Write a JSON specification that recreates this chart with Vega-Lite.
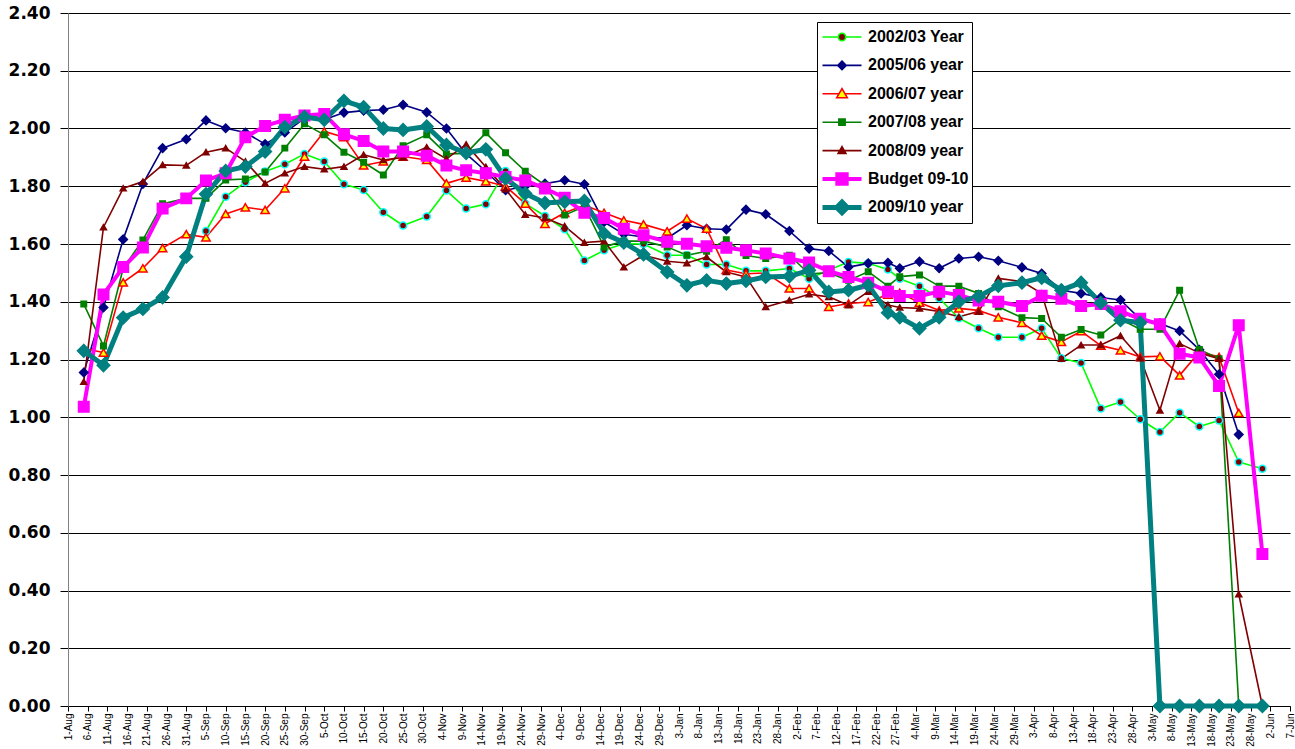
{
"$schema": "https://vega.github.io/schema/vega-lite/v6.json",
"width": 1222, "height": 693,
"autosize": {"type": "none"},
"padding": {"left": 68, "top": 13, "right": 5, "bottom": 43},
"background": "white",
"config": {"view": {"stroke": null}, "font": "Liberation Sans"},
"data": {"values": [
{"series":"2002/03 Year","date":"2009-09-05","value":1.645},
{"series":"2002/03 Year","date":"2009-09-10","value":1.764},
{"series":"2002/03 Year","date":"2009-09-15","value":1.814},
{"series":"2002/03 Year","date":"2009-09-20","value":1.851},
{"series":"2002/03 Year","date":"2009-09-25","value":1.876},
{"series":"2002/03 Year","date":"2009-09-30","value":1.912},
{"series":"2002/03 Year","date":"2009-10-05","value":1.886},
{"series":"2002/03 Year","date":"2009-10-10","value":1.807},
{"series":"2002/03 Year","date":"2009-10-15","value":1.787},
{"series":"2002/03 Year","date":"2009-10-20","value":1.71},
{"series":"2002/03 Year","date":"2009-10-25","value":1.664},
{"series":"2002/03 Year","date":"2009-10-31","value":1.695},
{"series":"2002/03 Year","date":"2009-11-05","value":1.785},
{"series":"2002/03 Year","date":"2009-11-10","value":1.723},
{"series":"2002/03 Year","date":"2009-11-15","value":1.738},
{"series":"2002/03 Year","date":"2009-11-20","value":1.853},
{"series":"2002/03 Year","date":"2009-11-25","value":1.74},
{"series":"2002/03 Year","date":"2009-11-30","value":1.697},
{"series":"2002/03 Year","date":"2009-12-05","value":1.651},
{"series":"2002/03 Year","date":"2009-12-10","value":1.543},
{"series":"2002/03 Year","date":"2009-12-15","value":1.578},
{"series":"2002/03 Year","date":"2009-12-20","value":1.601},
{"series":"2002/03 Year","date":"2009-12-25","value":1.6},
{"series":"2002/03 Year","date":"2009-12-31","value":1.561},
{"series":"2002/03 Year","date":"2010-01-05","value":1.561},
{"series":"2002/03 Year","date":"2010-01-10","value":1.529},
{"series":"2002/03 Year","date":"2010-01-15","value":1.529},
{"series":"2002/03 Year","date":"2010-01-20","value":1.507},
{"series":"2002/03 Year","date":"2010-01-25","value":1.507},
{"series":"2002/03 Year","date":"2010-01-31","value":1.515},
{"series":"2002/03 Year","date":"2010-02-05","value":1.48},
{"series":"2002/03 Year","date":"2010-02-10","value":1.51},
{"series":"2002/03 Year","date":"2010-02-15","value":1.538},
{"series":"2002/03 Year","date":"2010-02-20","value":1.533},
{"series":"2002/03 Year","date":"2010-02-25","value":1.512},
{"series":"2002/03 Year","date":"2010-02-28","value":1.48},
{"series":"2002/03 Year","date":"2010-03-05","value":1.454},
{"series":"2002/03 Year","date":"2010-03-10","value":1.412},
{"series":"2002/03 Year","date":"2010-03-15","value":1.343},
{"series":"2002/03 Year","date":"2010-03-20","value":1.308},
{"series":"2002/03 Year","date":"2010-03-25","value":1.277},
{"series":"2002/03 Year","date":"2010-03-31","value":1.277},
{"series":"2002/03 Year","date":"2010-04-05","value":1.308},
{"series":"2002/03 Year","date":"2010-04-10","value":1.204},
{"series":"2002/03 Year","date":"2010-04-15","value":1.188},
{"series":"2002/03 Year","date":"2010-04-20","value":1.03},
{"series":"2002/03 Year","date":"2010-04-25","value":1.053},
{"series":"2002/03 Year","date":"2010-04-30","value":0.993},
{"series":"2002/03 Year","date":"2010-05-05","value":0.949},
{"series":"2002/03 Year","date":"2010-05-10","value":1.016},
{"series":"2002/03 Year","date":"2010-05-15","value":0.968},
{"series":"2002/03 Year","date":"2010-05-20","value":0.989},
{"series":"2002/03 Year","date":"2010-05-25","value":0.845},
{"series":"2002/03 Year","date":"2010-05-31","value":0.822},
{"series":"2005/06 year","date":"2009-08-05","value":1.155},
{"series":"2005/06 year","date":"2009-08-10","value":1.38},
{"series":"2005/06 year","date":"2009-08-15","value":1.616},
{"series":"2005/06 year","date":"2009-08-20","value":1.808},
{"series":"2005/06 year","date":"2009-08-25","value":1.932},
{"series":"2005/06 year","date":"2009-08-31","value":1.963},
{"series":"2005/06 year","date":"2009-09-05","value":2.028},
{"series":"2005/06 year","date":"2009-09-10","value":2.001},
{"series":"2005/06 year","date":"2009-09-15","value":1.986},
{"series":"2005/06 year","date":"2009-09-20","value":1.946},
{"series":"2005/06 year","date":"2009-09-25","value":1.986},
{"series":"2005/06 year","date":"2009-09-30","value":2.035},
{"series":"2005/06 year","date":"2009-10-05","value":2.03},
{"series":"2005/06 year","date":"2009-10-10","value":2.055},
{"series":"2005/06 year","date":"2009-10-15","value":2.062},
{"series":"2005/06 year","date":"2009-10-20","value":2.065},
{"series":"2005/06 year","date":"2009-10-25","value":2.082},
{"series":"2005/06 year","date":"2009-10-31","value":2.056},
{"series":"2005/06 year","date":"2009-11-05","value":2.0},
{"series":"2005/06 year","date":"2009-11-10","value":1.912},
{"series":"2005/06 year","date":"2009-11-15","value":1.852},
{"series":"2005/06 year","date":"2009-11-20","value":1.786},
{"series":"2005/06 year","date":"2009-11-25","value":1.8},
{"series":"2005/06 year","date":"2009-11-30","value":1.809},
{"series":"2005/06 year","date":"2009-12-05","value":1.821},
{"series":"2005/06 year","date":"2009-12-10","value":1.807},
{"series":"2005/06 year","date":"2009-12-15","value":1.676},
{"series":"2005/06 year","date":"2009-12-20","value":1.634},
{"series":"2005/06 year","date":"2009-12-25","value":1.624},
{"series":"2005/06 year","date":"2009-12-31","value":1.62},
{"series":"2005/06 year","date":"2010-01-05","value":1.665},
{"series":"2005/06 year","date":"2010-01-10","value":1.653},
{"series":"2005/06 year","date":"2010-01-15","value":1.65},
{"series":"2005/06 year","date":"2010-01-20","value":1.719},
{"series":"2005/06 year","date":"2010-01-25","value":1.703},
{"series":"2005/06 year","date":"2010-01-31","value":1.645},
{"series":"2005/06 year","date":"2010-02-05","value":1.584},
{"series":"2005/06 year","date":"2010-02-10","value":1.576},
{"series":"2005/06 year","date":"2010-02-15","value":1.52},
{"series":"2005/06 year","date":"2010-02-20","value":1.533},
{"series":"2005/06 year","date":"2010-02-25","value":1.535},
{"series":"2005/06 year","date":"2010-02-28","value":1.516},
{"series":"2005/06 year","date":"2010-03-05","value":1.539},
{"series":"2005/06 year","date":"2010-03-10","value":1.516},
{"series":"2005/06 year","date":"2010-03-15","value":1.55},
{"series":"2005/06 year","date":"2010-03-20","value":1.556},
{"series":"2005/06 year","date":"2010-03-25","value":1.542},
{"series":"2005/06 year","date":"2010-03-31","value":1.519},
{"series":"2005/06 year","date":"2010-04-05","value":1.498},
{"series":"2005/06 year","date":"2010-04-10","value":1.44},
{"series":"2005/06 year","date":"2010-04-15","value":1.429},
{"series":"2005/06 year","date":"2010-04-20","value":1.415},
{"series":"2005/06 year","date":"2010-04-25","value":1.406},
{"series":"2005/06 year","date":"2010-04-30","value":1.34},
{"series":"2005/06 year","date":"2010-05-05","value":1.325},
{"series":"2005/06 year","date":"2010-05-10","value":1.299},
{"series":"2005/06 year","date":"2010-05-15","value":1.234},
{"series":"2005/06 year","date":"2010-05-20","value":1.149},
{"series":"2005/06 year","date":"2010-05-25","value":0.94},
{"series":"2006/07 year","date":"2009-08-05","value":1.238},
{"series":"2006/07 year","date":"2009-08-10","value":1.224},
{"series":"2006/07 year","date":"2009-08-15","value":1.467},
{"series":"2006/07 year","date":"2009-08-20","value":1.516},
{"series":"2006/07 year","date":"2009-08-25","value":1.586},
{"series":"2006/07 year","date":"2009-08-31","value":1.634},
{"series":"2006/07 year","date":"2009-09-05","value":1.623},
{"series":"2006/07 year","date":"2009-09-10","value":1.704},
{"series":"2006/07 year","date":"2009-09-15","value":1.727},
{"series":"2006/07 year","date":"2009-09-20","value":1.718},
{"series":"2006/07 year","date":"2009-09-25","value":1.793},
{"series":"2006/07 year","date":"2009-09-30","value":1.903},
{"series":"2006/07 year","date":"2009-10-05","value":1.99},
{"series":"2006/07 year","date":"2009-10-10","value":1.97},
{"series":"2006/07 year","date":"2009-10-15","value":1.872},
{"series":"2006/07 year","date":"2009-10-20","value":1.886},
{"series":"2006/07 year","date":"2009-10-25","value":1.903},
{"series":"2006/07 year","date":"2009-10-31","value":1.891},
{"series":"2006/07 year","date":"2009-11-05","value":1.81},
{"series":"2006/07 year","date":"2009-11-10","value":1.83},
{"series":"2006/07 year","date":"2009-11-15","value":1.817},
{"series":"2006/07 year","date":"2009-11-20","value":1.8},
{"series":"2006/07 year","date":"2009-11-25","value":1.74},
{"series":"2006/07 year","date":"2009-11-30","value":1.67},
{"series":"2006/07 year","date":"2009-12-05","value":1.708},
{"series":"2006/07 year","date":"2009-12-10","value":1.734},
{"series":"2006/07 year","date":"2009-12-15","value":1.708},
{"series":"2006/07 year","date":"2009-12-20","value":1.682},
{"series":"2006/07 year","date":"2009-12-25","value":1.668},
{"series":"2006/07 year","date":"2009-12-31","value":1.644},
{"series":"2006/07 year","date":"2010-01-05","value":1.688},
{"series":"2006/07 year","date":"2010-01-10","value":1.653},
{"series":"2006/07 year","date":"2010-01-15","value":1.51},
{"series":"2006/07 year","date":"2010-01-20","value":1.497},
{"series":"2006/07 year","date":"2010-01-25","value":1.5},
{"series":"2006/07 year","date":"2010-01-31","value":1.446},
{"series":"2006/07 year","date":"2010-02-05","value":1.446},
{"series":"2006/07 year","date":"2010-02-10","value":1.382},
{"series":"2006/07 year","date":"2010-02-15","value":1.394},
{"series":"2006/07 year","date":"2010-02-20","value":1.399},
{"series":"2006/07 year","date":"2010-02-25","value":1.425},
{"series":"2006/07 year","date":"2010-02-28","value":1.431},
{"series":"2006/07 year","date":"2010-03-05","value":1.397},
{"series":"2006/07 year","date":"2010-03-10","value":1.37},
{"series":"2006/07 year","date":"2010-03-15","value":1.377},
{"series":"2006/07 year","date":"2010-03-20","value":1.37},
{"series":"2006/07 year","date":"2010-03-25","value":1.346},
{"series":"2006/07 year","date":"2010-03-31","value":1.327},
{"series":"2006/07 year","date":"2010-04-05","value":1.283},
{"series":"2006/07 year","date":"2010-04-10","value":1.261},
{"series":"2006/07 year","date":"2010-04-15","value":1.298},
{"series":"2006/07 year","date":"2010-04-20","value":1.248},
{"series":"2006/07 year","date":"2010-04-25","value":1.232},
{"series":"2006/07 year","date":"2010-04-30","value":1.209},
{"series":"2006/07 year","date":"2010-05-05","value":1.211},
{"series":"2006/07 year","date":"2010-05-10","value":1.145},
{"series":"2006/07 year","date":"2010-05-15","value":1.226},
{"series":"2006/07 year","date":"2010-05-20","value":1.209},
{"series":"2006/07 year","date":"2010-05-25","value":1.015},
{"series":"2007/08 year","date":"2009-08-05","value":1.392},
{"series":"2007/08 year","date":"2009-08-10","value":1.247},
{"series":"2007/08 year","date":"2009-08-15","value":1.516},
{"series":"2007/08 year","date":"2009-08-20","value":1.614},
{"series":"2007/08 year","date":"2009-08-25","value":1.739},
{"series":"2007/08 year","date":"2009-08-31","value":1.758},
{"series":"2007/08 year","date":"2009-09-05","value":1.758},
{"series":"2007/08 year","date":"2009-09-10","value":1.822},
{"series":"2007/08 year","date":"2009-09-15","value":1.825},
{"series":"2007/08 year","date":"2009-09-20","value":1.849},
{"series":"2007/08 year","date":"2009-09-25","value":1.932},
{"series":"2007/08 year","date":"2009-09-30","value":2.016},
{"series":"2007/08 year","date":"2009-10-05","value":1.978},
{"series":"2007/08 year","date":"2009-10-10","value":1.918},
{"series":"2007/08 year","date":"2009-10-15","value":1.883},
{"series":"2007/08 year","date":"2009-10-20","value":1.839},
{"series":"2007/08 year","date":"2009-10-25","value":1.94},
{"series":"2007/08 year","date":"2009-10-31","value":1.978},
{"series":"2007/08 year","date":"2009-11-05","value":1.912},
{"series":"2007/08 year","date":"2009-11-10","value":1.914},
{"series":"2007/08 year","date":"2009-11-15","value":1.985},
{"series":"2007/08 year","date":"2009-11-20","value":1.916},
{"series":"2007/08 year","date":"2009-11-25","value":1.852},
{"series":"2007/08 year","date":"2009-11-30","value":1.804},
{"series":"2007/08 year","date":"2009-12-05","value":1.7},
{"series":"2007/08 year","date":"2009-12-10","value":1.73},
{"series":"2007/08 year","date":"2009-12-15","value":1.59},
{"series":"2007/08 year","date":"2009-12-20","value":1.61},
{"series":"2007/08 year","date":"2009-12-25","value":1.61},
{"series":"2007/08 year","date":"2009-12-31","value":1.59},
{"series":"2007/08 year","date":"2010-01-05","value":1.561},
{"series":"2007/08 year","date":"2010-01-10","value":1.575},
{"series":"2007/08 year","date":"2010-01-15","value":1.615},
{"series":"2007/08 year","date":"2010-01-20","value":1.56},
{"series":"2007/08 year","date":"2010-01-25","value":1.55},
{"series":"2007/08 year","date":"2010-01-31","value":1.561},
{"series":"2007/08 year","date":"2010-02-05","value":1.497},
{"series":"2007/08 year","date":"2010-02-10","value":1.5},
{"series":"2007/08 year","date":"2010-02-15","value":1.474},
{"series":"2007/08 year","date":"2010-02-20","value":1.504},
{"series":"2007/08 year","date":"2010-02-25","value":1.454},
{"series":"2007/08 year","date":"2010-02-28","value":1.487},
{"series":"2007/08 year","date":"2010-03-05","value":1.493},
{"series":"2007/08 year","date":"2010-03-10","value":1.454},
{"series":"2007/08 year","date":"2010-03-15","value":1.454},
{"series":"2007/08 year","date":"2010-03-20","value":1.429},
{"series":"2007/08 year","date":"2010-03-25","value":1.383},
{"series":"2007/08 year","date":"2010-03-31","value":1.345},
{"series":"2007/08 year","date":"2010-04-05","value":1.342},
{"series":"2007/08 year","date":"2010-04-10","value":1.277},
{"series":"2007/08 year","date":"2010-04-15","value":1.304},
{"series":"2007/08 year","date":"2010-04-20","value":1.285},
{"series":"2007/08 year","date":"2010-04-25","value":1.339},
{"series":"2007/08 year","date":"2010-04-30","value":1.305},
{"series":"2007/08 year","date":"2010-05-05","value":1.305},
{"series":"2007/08 year","date":"2010-05-10","value":1.44},
{"series":"2007/08 year","date":"2010-05-15","value":1.235},
{"series":"2007/08 year","date":"2010-05-20","value":1.203},
{"series":"2007/08 year","date":"2010-05-25","value":0},
{"series":"2008/09 year","date":"2009-08-05","value":1.123},
{"series":"2008/09 year","date":"2009-08-10","value":1.658},
{"series":"2008/09 year","date":"2009-08-15","value":1.793},
{"series":"2008/09 year","date":"2009-08-20","value":1.816},
{"series":"2008/09 year","date":"2009-08-25","value":1.874},
{"series":"2008/09 year","date":"2009-08-31","value":1.872},
{"series":"2008/09 year","date":"2009-09-05","value":1.918},
{"series":"2008/09 year","date":"2009-09-10","value":1.932},
{"series":"2008/09 year","date":"2009-09-15","value":1.886},
{"series":"2008/09 year","date":"2009-09-20","value":1.81},
{"series":"2008/09 year","date":"2009-09-25","value":1.845},
{"series":"2008/09 year","date":"2009-09-30","value":1.868},
{"series":"2008/09 year","date":"2009-10-05","value":1.859},
{"series":"2008/09 year","date":"2009-10-10","value":1.868},
{"series":"2008/09 year","date":"2009-10-15","value":1.909},
{"series":"2008/09 year","date":"2009-10-20","value":1.891},
{"series":"2008/09 year","date":"2009-10-25","value":1.9},
{"series":"2008/09 year","date":"2009-10-31","value":1.935},
{"series":"2008/09 year","date":"2009-11-05","value":1.895},
{"series":"2008/09 year","date":"2009-11-10","value":1.945},
{"series":"2008/09 year","date":"2009-11-15","value":1.867},
{"series":"2008/09 year","date":"2009-11-20","value":1.79},
{"series":"2008/09 year","date":"2009-11-25","value":1.702},
{"series":"2008/09 year","date":"2009-11-30","value":1.69},
{"series":"2008/09 year","date":"2009-12-05","value":1.662},
{"series":"2008/09 year","date":"2009-12-10","value":1.605},
{"series":"2008/09 year","date":"2009-12-15","value":1.61},
{"series":"2008/09 year","date":"2009-12-20","value":1.52},
{"series":"2008/09 year","date":"2009-12-25","value":1.561},
{"series":"2008/09 year","date":"2009-12-31","value":1.54},
{"series":"2008/09 year","date":"2010-01-05","value":1.534},
{"series":"2008/09 year","date":"2010-01-10","value":1.555},
{"series":"2008/09 year","date":"2010-01-15","value":1.503},
{"series":"2008/09 year","date":"2010-01-20","value":1.486},
{"series":"2008/09 year","date":"2010-01-25","value":1.382},
{"series":"2008/09 year","date":"2010-01-31","value":1.405},
{"series":"2008/09 year","date":"2010-02-05","value":1.426},
{"series":"2008/09 year","date":"2010-02-10","value":1.417},
{"series":"2008/09 year","date":"2010-02-15","value":1.388},
{"series":"2008/09 year","date":"2010-02-20","value":1.435},
{"series":"2008/09 year","date":"2010-02-25","value":1.389},
{"series":"2008/09 year","date":"2010-02-28","value":1.38},
{"series":"2008/09 year","date":"2010-03-05","value":1.377},
{"series":"2008/09 year","date":"2010-03-10","value":1.366},
{"series":"2008/09 year","date":"2010-03-15","value":1.348},
{"series":"2008/09 year","date":"2010-03-20","value":1.366},
{"series":"2008/09 year","date":"2010-03-25","value":1.481},
{"series":"2008/09 year","date":"2010-03-31","value":1.47},
{"series":"2008/09 year","date":"2010-04-05","value":1.429},
{"series":"2008/09 year","date":"2010-04-10","value":1.203},
{"series":"2008/09 year","date":"2010-04-15","value":1.25},
{"series":"2008/09 year","date":"2010-04-20","value":1.25},
{"series":"2008/09 year","date":"2010-04-25","value":1.282},
{"series":"2008/09 year","date":"2010-04-30","value":1.205},
{"series":"2008/09 year","date":"2010-05-05","value":1.024},
{"series":"2008/09 year","date":"2010-05-10","value":1.255},
{"series":"2008/09 year","date":"2010-05-15","value":1.223},
{"series":"2008/09 year","date":"2010-05-20","value":1.203},
{"series":"2008/09 year","date":"2010-05-25","value":0.387},
{"series":"2008/09 year","date":"2010-05-31","value":0},
{"series":"Budget 09-10","date":"2009-08-05","value":1.036},
{"series":"Budget 09-10","date":"2009-08-10","value":1.425},
{"series":"Budget 09-10","date":"2009-08-15","value":1.52},
{"series":"Budget 09-10","date":"2009-08-20","value":1.588},
{"series":"Budget 09-10","date":"2009-08-25","value":1.723},
{"series":"Budget 09-10","date":"2009-08-31","value":1.758},
{"series":"Budget 09-10","date":"2009-09-05","value":1.82},
{"series":"Budget 09-10","date":"2009-09-10","value":1.845},
{"series":"Budget 09-10","date":"2009-09-15","value":1.97},
{"series":"Budget 09-10","date":"2009-09-20","value":2.009},
{"series":"Budget 09-10","date":"2009-09-25","value":2.03},
{"series":"Budget 09-10","date":"2009-09-30","value":2.045},
{"series":"Budget 09-10","date":"2009-10-05","value":2.05},
{"series":"Budget 09-10","date":"2009-10-10","value":1.98},
{"series":"Budget 09-10","date":"2009-10-15","value":1.957},
{"series":"Budget 09-10","date":"2009-10-20","value":1.92},
{"series":"Budget 09-10","date":"2009-10-25","value":1.92},
{"series":"Budget 09-10","date":"2009-10-31","value":1.906},
{"series":"Budget 09-10","date":"2009-11-05","value":1.872},
{"series":"Budget 09-10","date":"2009-11-10","value":1.855},
{"series":"Budget 09-10","date":"2009-11-15","value":1.845},
{"series":"Budget 09-10","date":"2009-11-20","value":1.832},
{"series":"Budget 09-10","date":"2009-11-25","value":1.82},
{"series":"Budget 09-10","date":"2009-11-30","value":1.792},
{"series":"Budget 09-10","date":"2009-12-05","value":1.76},
{"series":"Budget 09-10","date":"2009-12-10","value":1.708},
{"series":"Budget 09-10","date":"2009-12-15","value":1.69},
{"series":"Budget 09-10","date":"2009-12-20","value":1.653},
{"series":"Budget 09-10","date":"2009-12-25","value":1.63},
{"series":"Budget 09-10","date":"2009-12-31","value":1.608},
{"series":"Budget 09-10","date":"2010-01-05","value":1.601},
{"series":"Budget 09-10","date":"2010-01-10","value":1.592},
{"series":"Budget 09-10","date":"2010-01-15","value":1.587},
{"series":"Budget 09-10","date":"2010-01-20","value":1.578},
{"series":"Budget 09-10","date":"2010-01-25","value":1.567},
{"series":"Budget 09-10","date":"2010-01-31","value":1.55},
{"series":"Budget 09-10","date":"2010-02-05","value":1.536},
{"series":"Budget 09-10","date":"2010-02-10","value":1.506},
{"series":"Budget 09-10","date":"2010-02-15","value":1.486},
{"series":"Budget 09-10","date":"2010-02-20","value":1.466},
{"series":"Budget 09-10","date":"2010-02-25","value":1.435},
{"series":"Budget 09-10","date":"2010-02-28","value":1.42},
{"series":"Budget 09-10","date":"2010-03-05","value":1.42},
{"series":"Budget 09-10","date":"2010-03-10","value":1.435},
{"series":"Budget 09-10","date":"2010-03-15","value":1.423},
{"series":"Budget 09-10","date":"2010-03-20","value":1.404},
{"series":"Budget 09-10","date":"2010-03-25","value":1.4},
{"series":"Budget 09-10","date":"2010-03-31","value":1.385},
{"series":"Budget 09-10","date":"2010-04-05","value":1.421},
{"series":"Budget 09-10","date":"2010-04-10","value":1.41},
{"series":"Budget 09-10","date":"2010-04-15","value":1.385},
{"series":"Budget 09-10","date":"2010-04-20","value":1.392},
{"series":"Budget 09-10","date":"2010-04-25","value":1.367},
{"series":"Budget 09-10","date":"2010-04-30","value":1.341},
{"series":"Budget 09-10","date":"2010-05-05","value":1.322},
{"series":"Budget 09-10","date":"2010-05-10","value":1.22},
{"series":"Budget 09-10","date":"2010-05-15","value":1.207},
{"series":"Budget 09-10","date":"2010-05-20","value":1.108},
{"series":"Budget 09-10","date":"2010-05-25","value":1.319},
{"series":"Budget 09-10","date":"2010-05-31","value":0.526},
{"series":"2009/10 year","date":"2009-08-05","value":1.23},
{"series":"2009/10 year","date":"2009-08-10","value":1.18},
{"series":"2009/10 year","date":"2009-08-15","value":1.345},
{"series":"2009/10 year","date":"2009-08-20","value":1.375},
{"series":"2009/10 year","date":"2009-08-25","value":1.415},
{"series":"2009/10 year","date":"2009-08-31","value":1.556},
{"series":"2009/10 year","date":"2009-09-05","value":1.773},
{"series":"2009/10 year","date":"2009-09-10","value":1.853},
{"series":"2009/10 year","date":"2009-09-15","value":1.868},
{"series":"2009/10 year","date":"2009-09-20","value":1.92},
{"series":"2009/10 year","date":"2009-09-25","value":2.005},
{"series":"2009/10 year","date":"2009-09-30","value":2.04},
{"series":"2009/10 year","date":"2009-10-05","value":2.03},
{"series":"2009/10 year","date":"2009-10-10","value":2.096},
{"series":"2009/10 year","date":"2009-10-15","value":2.074},
{"series":"2009/10 year","date":"2009-10-20","value":2.0},
{"series":"2009/10 year","date":"2009-10-25","value":1.995},
{"series":"2009/10 year","date":"2009-10-31","value":2.007},
{"series":"2009/10 year","date":"2009-11-05","value":1.943},
{"series":"2009/10 year","date":"2009-11-10","value":1.915},
{"series":"2009/10 year","date":"2009-11-15","value":1.928},
{"series":"2009/10 year","date":"2009-11-20","value":1.827},
{"series":"2009/10 year","date":"2009-11-25","value":1.775},
{"series":"2009/10 year","date":"2009-11-30","value":1.742},
{"series":"2009/10 year","date":"2009-12-05","value":1.746},
{"series":"2009/10 year","date":"2009-12-10","value":1.749},
{"series":"2009/10 year","date":"2009-12-15","value":1.636},
{"series":"2009/10 year","date":"2009-12-20","value":1.605},
{"series":"2009/10 year","date":"2009-12-25","value":1.564},
{"series":"2009/10 year","date":"2009-12-31","value":1.503},
{"series":"2009/10 year","date":"2010-01-05","value":1.457},
{"series":"2009/10 year","date":"2010-01-10","value":1.474},
{"series":"2009/10 year","date":"2010-01-15","value":1.463},
{"series":"2009/10 year","date":"2010-01-20","value":1.472},
{"series":"2009/10 year","date":"2010-01-25","value":1.486},
{"series":"2009/10 year","date":"2010-01-31","value":1.488},
{"series":"2009/10 year","date":"2010-02-05","value":1.509},
{"series":"2009/10 year","date":"2010-02-10","value":1.434},
{"series":"2009/10 year","date":"2010-02-15","value":1.44},
{"series":"2009/10 year","date":"2010-02-20","value":1.457},
{"series":"2009/10 year","date":"2010-02-25","value":1.362},
{"series":"2009/10 year","date":"2010-02-28","value":1.346},
{"series":"2009/10 year","date":"2010-03-05","value":1.308},
{"series":"2009/10 year","date":"2010-03-10","value":1.346},
{"series":"2009/10 year","date":"2010-03-15","value":1.4},
{"series":"2009/10 year","date":"2010-03-20","value":1.418},
{"series":"2009/10 year","date":"2010-03-25","value":1.455},
{"series":"2009/10 year","date":"2010-03-31","value":1.466},
{"series":"2009/10 year","date":"2010-04-05","value":1.483},
{"series":"2009/10 year","date":"2010-04-10","value":1.44},
{"series":"2009/10 year","date":"2010-04-15","value":1.466},
{"series":"2009/10 year","date":"2010-04-20","value":1.396},
{"series":"2009/10 year","date":"2010-04-25","value":1.336},
{"series":"2009/10 year","date":"2010-04-30","value":1.328},
{"series":"2009/10 year","date":"2010-05-05","value":0},
{"series":"2009/10 year","date":"2010-05-10","value":0},
{"series":"2009/10 year","date":"2010-05-15","value":0},
{"series":"2009/10 year","date":"2010-05-20","value":0},
{"series":"2009/10 year","date":"2010-05-25","value":0},
{"series":"2009/10 year","date":"2010-05-31","value":0}
]},
"encoding": {
  "x": {"field": "date", "type": "temporal",
    "scale": {"type": "utc", "domain": [{"year":2009,"month":8,"date":1,"utc":true},{"year":2010,"month":6,"date":7,"utc":true}]},
    "axis": {"title": null, "labelExpr": "utcFormat(datum.value, '%-d-%b')", "labelAngle": -90, "labelFont": "Liberation Sans", "labelFontSize": 10, "labelColor": "#000", "labelPadding": 2, "tickSize": 5, "tickColor": "#000", "domainColor": "#000", "grid": false, "labelOverlap": false, "labelFlush": false, "labelBound": false,
      "values": [
        {"year":2009,"month":8,"date":1,"utc":true},{"year":2009,"month":8,"date":6,"utc":true},{"year":2009,"month":8,"date":11,"utc":true},{"year":2009,"month":8,"date":16,"utc":true},{"year":2009,"month":8,"date":21,"utc":true},{"year":2009,"month":8,"date":26,"utc":true},{"year":2009,"month":8,"date":31,"utc":true},
        {"year":2009,"month":9,"date":5,"utc":true},{"year":2009,"month":9,"date":10,"utc":true},{"year":2009,"month":9,"date":15,"utc":true},{"year":2009,"month":9,"date":20,"utc":true},{"year":2009,"month":9,"date":25,"utc":true},{"year":2009,"month":9,"date":30,"utc":true},
        {"year":2009,"month":10,"date":5,"utc":true},{"year":2009,"month":10,"date":10,"utc":true},{"year":2009,"month":10,"date":15,"utc":true},{"year":2009,"month":10,"date":20,"utc":true},{"year":2009,"month":10,"date":25,"utc":true},{"year":2009,"month":10,"date":30,"utc":true},
        {"year":2009,"month":11,"date":4,"utc":true},{"year":2009,"month":11,"date":9,"utc":true},{"year":2009,"month":11,"date":14,"utc":true},{"year":2009,"month":11,"date":19,"utc":true},{"year":2009,"month":11,"date":24,"utc":true},{"year":2009,"month":11,"date":29,"utc":true},
        {"year":2009,"month":12,"date":4,"utc":true},{"year":2009,"month":12,"date":9,"utc":true},{"year":2009,"month":12,"date":14,"utc":true},{"year":2009,"month":12,"date":19,"utc":true},{"year":2009,"month":12,"date":24,"utc":true},{"year":2009,"month":12,"date":29,"utc":true},
        {"year":2010,"month":1,"date":3,"utc":true},{"year":2010,"month":1,"date":8,"utc":true},{"year":2010,"month":1,"date":13,"utc":true},{"year":2010,"month":1,"date":18,"utc":true},{"year":2010,"month":1,"date":23,"utc":true},{"year":2010,"month":1,"date":28,"utc":true},
        {"year":2010,"month":2,"date":2,"utc":true},{"year":2010,"month":2,"date":7,"utc":true},{"year":2010,"month":2,"date":12,"utc":true},{"year":2010,"month":2,"date":17,"utc":true},{"year":2010,"month":2,"date":22,"utc":true},{"year":2010,"month":2,"date":27,"utc":true},
        {"year":2010,"month":3,"date":4,"utc":true},{"year":2010,"month":3,"date":9,"utc":true},{"year":2010,"month":3,"date":14,"utc":true},{"year":2010,"month":3,"date":19,"utc":true},{"year":2010,"month":3,"date":24,"utc":true},{"year":2010,"month":3,"date":29,"utc":true},
        {"year":2010,"month":4,"date":3,"utc":true},{"year":2010,"month":4,"date":8,"utc":true},{"year":2010,"month":4,"date":13,"utc":true},{"year":2010,"month":4,"date":18,"utc":true},{"year":2010,"month":4,"date":23,"utc":true},{"year":2010,"month":4,"date":28,"utc":true},
        {"year":2010,"month":5,"date":3,"utc":true},{"year":2010,"month":5,"date":8,"utc":true},{"year":2010,"month":5,"date":13,"utc":true},{"year":2010,"month":5,"date":18,"utc":true},{"year":2010,"month":5,"date":23,"utc":true},{"year":2010,"month":5,"date":28,"utc":true},
        {"year":2010,"month":6,"date":2,"utc":true},{"year":2010,"month":6,"date":7,"utc":true}
      ]}},
  "y": {"field": "value", "type": "quantitative",
    "scale": {"domain": [0, 2.4], "nice": false, "zero": true},
    "axis": {"title": null, "format": ".2f", "values": [0,0.2,0.4,0.6,0.8,1.0,1.2,1.4,1.6,1.8,2.0,2.2,2.4], "labelFont": "DejaVu Sans", "labelFontWeight": "bold", "labelFontSize": 17, "labelColor": "#000", "labelPadding": 10, "tickSize": 8, "tickColor": "#000", "domainColor": "#808080", "grid": true, "gridColor": "#000", "gridWidth": 1, "gridOpacity": 1}}
},
"layer": [
  {"mark": {"type": "line", "strokeJoin": "round", "strokeCap": "butt"},
   "encoding": {
     "color": {"field": "series", "type": "nominal", "legend": null,
       "scale": {"domain": ["2002/03 Year","2005/06 year","2006/07 year","2007/08 year","2008/09 year","Budget 09-10","2009/10 year"],
                 "range": ["#00FF00","#000080","#FF0000","#008000","#800000","#FF00FF","#008080"]}},
     "strokeWidth": {"field": "series", "type": "nominal", "legend": null,
       "scale": {"type": "ordinal", "domain": ["2002/03 Year","2005/06 year","2006/07 year","2007/08 year","2008/09 year","Budget 09-10","2009/10 year"],
                 "range": [1.6,1.6,1.6,1.6,1.6,4,5]}}
   }},
  {"mark": {"type": "point", "filled": true, "opacity": 1, "strokeWidth": 1.5},
   "encoding": {
     "shape": {"field": "series", "type": "nominal", "legend": null,
       "scale": {"domain": ["2002/03 Year","2005/06 year","2006/07 year","2007/08 year","2008/09 year","Budget 09-10","2009/10 year"],
                 "range": ["circle","diamond","triangle-up","square","triangle-up","square","diamond"]}},
     "fill": {"field": "series", "type": "nominal", "legend": null,
       "scale": {"domain": ["2002/03 Year","2005/06 year","2006/07 year","2007/08 year","2008/09 year","Budget 09-10","2009/10 year"],
                 "range": ["#800000","#000080","#FFFF00","#008000","#800000","#FF00FF","#008080"]}},
     "stroke": {"field": "series", "type": "nominal", "legend": null,
       "scale": {"domain": ["2002/03 Year","2005/06 year","2006/07 year","2007/08 year","2008/09 year","Budget 09-10","2009/10 year"],
                 "range": ["#00FFFF","#000080","#FF0000","#008000","#800000","#FF00FF","#008080"]}},
     "size": {"field": "series", "type": "nominal", "legend": null,
       "scale": {"type": "ordinal", "domain": ["2002/03 Year","2005/06 year","2006/07 year","2007/08 year","2008/09 year","Budget 09-10","2009/10 year"],
                 "range": [49,72,70,30,36,110,160]}}
   }},
  {"mark": {"type": "point", "filled": true, "opacity": 0},
   "encoding": {
     "shape": {"field": "series", "type": "nominal",
       "scale": {"domain": ["2002/03 Year","2005/06 year","2006/07 year","2007/08 year","2008/09 year","Budget 09-10","2009/10 year"],
                 "range": [
                   "M-1,0H-0.19M0.19,0H1M-0.19,0A0.19,0.19,0,1,0,0.19,0A0.19,0.19,0,1,0,-0.19,0Z",
                   "M-1,0H-0.22M0.22,0H1M0,-0.22L0.22,0L0,0.22L-0.22,0Z",
                   "M-1,0H-0.16M0.16,0H1M0,-0.27L0.27,0.2L-0.27,0.2Z",
                   "M-1,0H-0.16M0.16,0H1M-0.16,-0.16H0.16V0.16H-0.16Z",
                   "M-1,0H-0.12M0.12,0H1M0,-0.2L0.2,0.15L-0.2,0.15Z",
                   "M-1,0H-0.24M0.24,0H1M-0.24,-0.24H0.24V0.24H-0.24Z",
                   "M-1,0H-0.27M0.27,0H1M0,-0.27L0.27,0L0,0.27L-0.27,0Z"]},
       "legend": {"title": null, "orient": "none", "legendX": 749, "legendY": 9, "fillColor": "white", "strokeColor": "#000", "padding": 3, "symbolSize": 1521, "clipHeight": 24, "rowPadding": 4.4, "labelFont": "Liberation Sans", "labelFontSize": 16, "labelFontWeight": "bold", "labelColor": "#000", "labelOffset": 4, "symbolOpacity": 1, "labelLimit": 300}},
     "fill": {"field": "series", "type": "nominal",
       "scale": {"domain": ["2002/03 Year","2005/06 year","2006/07 year","2007/08 year","2008/09 year","Budget 09-10","2009/10 year"],
                 "range": ["#800000","#000080","#FFFF00","#008000","#800000","#FF00FF","#008080"]},
       "legend": {"title": null, "orient": "none", "legendX": 749, "legendY": 9, "fillColor": "white", "strokeColor": "#000", "padding": 3, "symbolSize": 1521, "clipHeight": 24, "rowPadding": 4.4, "labelFont": "Liberation Sans", "labelFontSize": 16, "labelFontWeight": "bold", "labelColor": "#000", "labelOffset": 4, "symbolOpacity": 1, "labelLimit": 300}},
     "stroke": {"field": "series", "type": "nominal",
       "scale": {"domain": ["2002/03 Year","2005/06 year","2006/07 year","2007/08 year","2008/09 year","Budget 09-10","2009/10 year"],
                 "range": ["#00FF00","#000080","#FF0000","#008000","#800000","#FF00FF","#008080"]},
       "legend": {"title": null, "orient": "none", "legendX": 749, "legendY": 9, "fillColor": "white", "strokeColor": "#000", "padding": 3, "symbolSize": 1521, "clipHeight": 24, "rowPadding": 4.4, "labelFont": "Liberation Sans", "labelFontSize": 16, "labelFontWeight": "bold", "labelColor": "#000", "labelOffset": 4, "symbolOpacity": 1, "labelLimit": 300}},
     "strokeWidth": {"field": "series", "type": "nominal",
       "scale": {"type": "ordinal", "domain": ["2002/03 Year","2005/06 year","2006/07 year","2007/08 year","2008/09 year","Budget 09-10","2009/10 year"],
                 "range": [1.6,1.6,1.6,1.6,1.6,4,5]},
       "legend": {"title": null, "orient": "none", "legendX": 749, "legendY": 9, "fillColor": "white", "strokeColor": "#000", "padding": 3, "symbolSize": 1521, "clipHeight": 24, "rowPadding": 4.4, "labelFont": "Liberation Sans", "labelFontSize": 16, "labelFontWeight": "bold", "labelColor": "#000", "labelOffset": 4, "symbolOpacity": 1, "labelLimit": 300}}
   }}
],
"resolve": {"scale": {"shape": "independent", "fill": "independent", "stroke": "independent", "strokeWidth": "independent", "size": "independent", "color": "independent"},
            "legend": {"shape": "independent", "fill": "independent", "stroke": "independent", "strokeWidth": "independent", "size": "independent", "color": "independent"}}
}
